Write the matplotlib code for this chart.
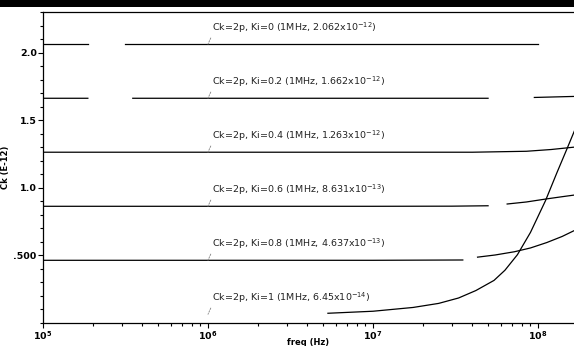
import numpy as np
import matplotlib
matplotlib.use('Agg')
import matplotlib.pyplot as plt
from matplotlib.patches import Rectangle
from matplotlib.ticker import FixedLocator, FixedFormatter, LogLocator, MultipleLocator, NullFormatter

# Ck (E-12) vs frequency, one trace per Ki, NaN = drop-out in the original trace
ki_labels = ['0', '0.2', '0.4', '0.6', '0.8', '1']
ck_at_1mhz = ['2.062x10$^{-12}$', '1.662x10$^{-12}$', '1.263x10$^{-12}$',
              '8.631x10$^{-13}$', '4.637x10$^{-13}$', '6.45x10$^{-14}$']
ck_1mhz_val = [2.062, 1.662, 1.263, 0.8631, 0.4637, 0.0645]

f_ki0 = [1e5, 1.87e5, np.nan, 3.14e5, 1e6, 1e7, 1.0e8]
c_ki0 = [2.062, 2.062, np.nan, 2.062, 2.062, 2.062, 2.062]

f_ki02 = [1e5, 1.87e5, np.nan, 3.5e5, 1e6, 1e7, 4.98e7, np.nan, 9.5e7, 1.7e8]
c_ki02 = [1.662, 1.662, np.nan, 1.662, 1.662, 1.662, 1.662, np.nan, 1.668, 1.676]

f_ki04 = [1e5, 1e6, 1e7, 4e7, 8.5e7, 1.2e8, 1.7e8]
c_ki04 = [1.263, 1.263, 1.263, 1.263, 1.270, 1.283, 1.302]

f_ki06 = [1e5, 1e6, 1e7, 3e7, 4.98e7, np.nan, 6.5e7, 8.5e7, 1.13e8, 1.4e8, 1.7e8]
c_ki06 = [0.8631, 0.8631, 0.8631, 0.864, 0.867, np.nan, 0.880, 0.895, 0.918, 0.934, 0.948]

f_ki08 = [1e5, 1e6, 1e7, 3.5e7, np.nan, 4.3e7, 5.5e7, 7.2e7, 9e7, 1.13e8, 1.4e8, 1.7e8]
c_ki08 = [0.4637, 0.4637, 0.4637, 0.466, np.nan, 0.487, 0.503, 0.527, 0.555, 0.595, 0.640, 0.69]

f_ki1 = [5.33e6, 1e7, 1.75e7, 2.5e7, 3.3e7, 4.2e7, 5.41e7, 6.3e7, 7.5e7, 9e7,
         1.11e8, 1.3e8, 1.5e8, 1.7e8]
c_ki1 = [0.072, 0.087, 0.115, 0.145, 0.185, 0.24, 0.315, 0.39, 0.505, 0.67,
         0.905, 1.11, 1.29, 1.45]

freqs = [f_ki0, f_ki02, f_ki04, f_ki06, f_ki08, f_ki1]
caps = [c_ki0, c_ki02, c_ki04, c_ki06, c_ki08, c_ki1]

ytick_vals = [0.5, 1.0, 1.5, 2.0]
ytick_labels = ['.500', '1.0', '1.5', '2.0']
xtick_vals = [1e5, 1e6, 1e7, 1e8]
xtick_labels = [r'$\mathbf{10^{5}}$', r'$\mathbf{10^{6}}$', r'$\mathbf{10^{7}}$', r'$\mathbf{10^{8}}$']

fig = plt.figure(figsize=(5.74, 3.46), dpi=100)
ax = fig.add_axes([43/574., 23/346., 1 - 43/574., 311/346.])

# black band along the top
fig.patches.append(Rectangle((0, 1 - 7/346.), 1, 7/346., transform=fig.transFigure,
                             facecolor='black', edgecolor='none', zorder=5))

for f, c in zip(freqs, caps):
    ax.plot(f, c, color='black', lw=0.9)

for ki, txt, v in zip(ki_labels, ck_at_1mhz, ck_1mhz_val):
    ax.annotate('Ck=2p, Ki=%s (1MHz, %s)' % (ki, txt), xy=(1e6, v),
                xytext=(4, 9), textcoords='offset pixels',
                fontsize=6.8, va='bottom', ha='left', color='#222222',
                arrowprops=dict(arrowstyle='-', color='gray', lw=0.6, ls=(0, (2, 1.5)),
                                shrinkA=0, shrinkB=0, relpos=(0, 0)))

ax.set_xscale('log')
ax.set_xlim(1e5, 10**8.218)
ax.set_ylim(0, 2.3)

ax.xaxis.set_major_locator(FixedLocator(xtick_vals))
ax.xaxis.set_major_formatter(FixedFormatter(xtick_labels))
ax.xaxis.set_minor_locator(LogLocator(base=10, subs=np.arange(2, 10)))
ax.xaxis.set_minor_formatter(NullFormatter())
ax.yaxis.set_major_locator(FixedLocator(ytick_vals))
ax.yaxis.set_major_formatter(FixedFormatter(ytick_labels))
ax.yaxis.set_minor_locator(MultipleLocator(0.1))

ax.tick_params(which='both', direction='out', width=0.8, labelsize=6.8, pad=1)
ax.tick_params(which='major', length=3.5)
ax.tick_params(which='minor', length=2)
for lab in ax.get_yticklabels():
    lab.set_fontweight('bold')

ax.spines['right'].set_visible(False)
for s in ['left', 'bottom', 'top']:
    ax.spines[s].set_linewidth(0.9)

ax.set_xlabel('freq (Hz)', fontsize=6, fontweight='bold')
ax.xaxis.set_label_coords(0.5, -0.047)
ax.set_ylabel('Ck (E-12)', fontsize=6, fontweight='bold')
ax.yaxis.set_label_coords(-0.062, 0.5)

fig.savefig('out.png', dpi=100)
